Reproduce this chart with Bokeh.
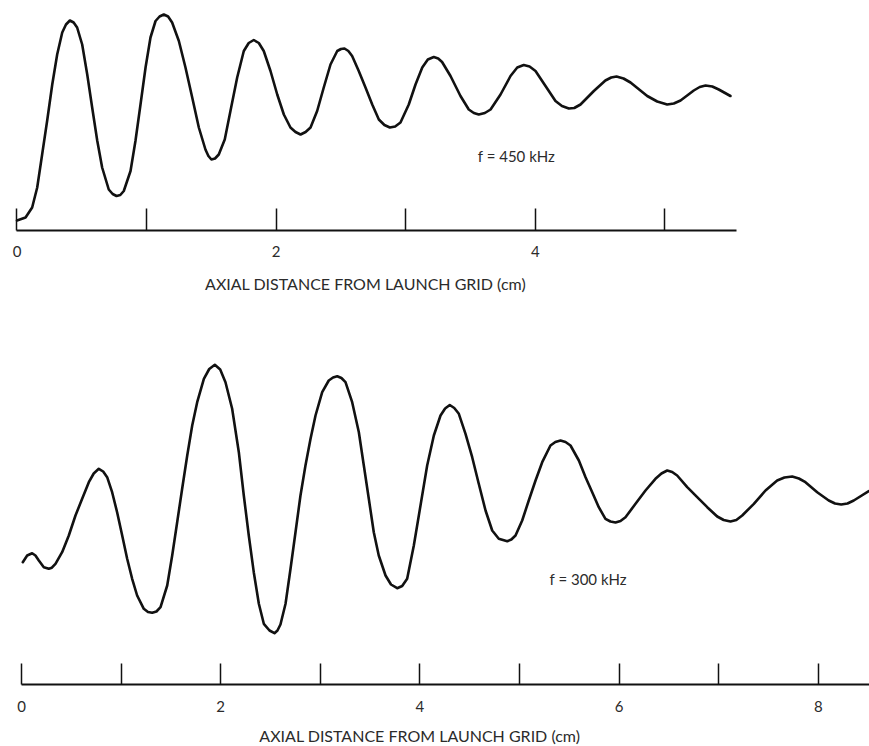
from bokeh.plotting import figure
from bokeh.models import Range1d, FixedTicker, Label
from bokeh.layouts import column
from bokeh.embed import file_html
from bokeh.resources import INLINE

# ---- data (axial distance in cm, signal amplitude in arbitrary units) ----
x_450 = [0.0, 0.066, 0.117, 0.156, 0.194, 0.233, 0.272, 0.31, 0.349, 0.378,
         0.408, 0.437, 0.464, 0.503, 0.542, 0.58, 0.619, 0.657, 0.708, 0.738,
         0.768, 0.797, 0.824, 0.876, 0.914, 0.953, 0.992, 1.03, 1.069, 1.10,
         1.133, 1.166, 1.197, 1.249, 1.30, 1.352, 1.403, 1.454, 1.477, 1.50,
         1.528, 1.557, 1.603, 1.647, 1.699, 1.75, 1.788, 1.827, 1.866, 1.904,
         1.956, 2.008, 2.059, 2.11, 2.149, 2.188, 2.227, 2.265, 2.316, 2.367,
         2.419, 2.471, 2.50, 2.527, 2.557, 2.586, 2.637, 2.689, 2.741, 2.792,
         2.835, 2.877, 2.918, 2.959, 3.023, 3.075, 3.127, 3.17, 3.216, 3.25,
         3.28, 3.345, 3.422, 3.486, 3.525, 3.563, 3.61, 3.654, 3.731, 3.808,
         3.86, 3.91, 3.955, 4.001, 4.078, 4.155, 4.205, 4.258, 4.30, 4.348,
         4.451, 4.54, 4.585, 4.626, 4.68, 4.734, 4.863, 4.94, 5.017, 5.068,
         5.12, 5.222, 5.268, 5.313, 5.365, 5.415, 5.505]
amp_450 = [10.0, 13.0, 23.0, 43.0, 76.0, 110.0, 146.0, 176.0, 198.0, 206.0,
           210.0, 208.0, 203.0, 186.0, 156.0, 123.0, 90.0, 63.0, 41.0, 36.5,
           34.5, 35.5, 39.5, 59.5, 89.5, 126.0, 163.0, 193.0, 209.5, 214.0,
           216.0, 214.0, 208.0, 189.5, 163.0, 133.0, 103.0, 81.0, 74.5, 71.0,
           72.0, 76.0, 91.0, 119.5, 153.0, 179.5, 187.5, 190.5, 187.5, 179.5,
           159.5, 136.0, 116.0, 103.0, 98.5, 96.0, 98.5, 103.0, 119.5, 143.0,
           166.0, 179.5, 181.5, 182.0, 179.5, 174.5, 159.5, 143.0, 126.0, 111.0,
           105.5, 103.0, 104.0, 108.0, 126.0, 146.0, 163.0, 171.0, 173.5, 172.0,
           168.5, 154.5, 134.5, 121.0, 117.5, 116.0, 117.5, 121.0, 136.0, 154.5,
           163.0, 165.5, 164.0, 159.5, 144.5, 129.5, 124.5, 122.0, 122.5, 126.0,
           139.5, 150.0, 153.0, 154.0, 152.0, 148.0, 134.5, 129.0, 126.0, 127.0,
           130.0, 140.0, 143.5, 145.0, 144.0, 141.0, 134.5]

x_300 = [0.013, 0.057, 0.107, 0.14, 0.174, 0.224, 0.274, 0.305, 0.341, 0.408,
         0.475, 0.542, 0.609, 0.676, 0.725, 0.776, 0.82, 0.86, 0.91, 0.96,
         1.011, 1.061, 1.111, 1.161, 1.228, 1.27, 1.312, 1.355, 1.396, 1.463,
         1.513, 1.563, 1.613, 1.664, 1.714, 1.764, 1.831, 1.885, 1.941, 1.995,
         2.048, 2.115, 2.182, 2.232, 2.282, 2.332, 2.383, 2.433, 2.49, 2.54,
         2.57, 2.60, 2.651, 2.701, 2.751, 2.801, 2.851, 2.902, 2.952, 3.019,
         3.085, 3.128, 3.17, 3.212, 3.253, 3.32, 3.387, 3.437, 3.487, 3.537,
         3.587, 3.655, 3.71, 3.772, 3.822, 3.872, 3.939, 4.006, 4.073, 4.14,
         4.207, 4.253, 4.30, 4.345, 4.391, 4.458, 4.525, 4.591, 4.659, 4.726,
         4.792, 4.877, 4.918, 4.96, 5.027, 5.093, 5.161, 5.228, 5.311, 5.36,
         5.412, 5.462, 5.512, 5.596, 5.663, 5.73, 5.796, 5.863, 5.913, 5.964,
         6.014, 6.064, 6.165, 6.265, 6.365, 6.425, 6.483, 6.533, 6.583, 6.684,
         6.784, 6.885, 6.985, 7.05, 7.118, 7.177, 7.236, 7.353, 7.47, 7.587,
         7.66, 7.738, 7.805, 7.871, 7.989, 8.105, 8.168, 8.23, 8.293, 8.356,
         8.507]
amp_300 = [122.3, 129.0, 131.3, 129.0, 124.0, 117.3, 115.7, 116.8, 120.7, 132.3,
           149.0, 169.0, 185.7, 202.3, 211.0, 215.7, 213.0, 207.3, 192.3, 172.3,
           149.0, 125.7, 105.7, 89.0, 75.7, 72.5, 71.7, 73.0, 77.3, 99.0,
           129.0, 162.3, 195.7, 229.0, 259.0, 282.3, 305.7, 315.5, 319.7, 315.0,
           302.3, 275.7, 232.3, 189.0, 149.0, 112.3, 80.7, 60.7, 54.0, 51.3,
           54.0, 60.0, 80.7, 115.7, 152.3, 189.0, 219.0, 245.7, 269.0, 292.3,
           304.0, 307.0, 308.3, 306.5, 302.3, 282.3, 252.3, 219.0, 185.7, 152.3,
           129.0, 109.0, 100.0, 96.3, 98.5, 105.7, 139.0, 179.0, 219.0, 249.0,
           269.0, 276.0, 279.5, 276.5, 270.7, 250.7, 227.3, 200.7, 174.0, 154.0,
           145.7, 143.3, 145.0, 149.0, 164.0, 184.0, 204.0, 222.3, 239.0, 242.5,
           244.0, 242.5, 239.0, 224.0, 207.3, 192.3, 177.3, 165.7, 163.0, 162.0,
           163.5, 167.3, 180.7, 194.0, 205.7, 211.0, 214.0, 212.5, 209.0, 197.3,
           187.3, 177.3, 168.0, 164.5, 163.0, 164.5, 169.0, 180.7, 194.0, 204.0,
           207.0, 208.0, 206.0, 202.3, 192.3, 184.0, 181.0, 180.0, 181.0, 184.0,
           193.3]

ticks_450 = [0, 1, 2, 3, 4, 5]
ticks_300 = [0, 1, 2, 3, 4, 5, 6, 7, 8]
tick_text_450 = ["0", "", "2", "", "4", ""]
tick_text_300 = ["0", "", "2", "", "4", "", "6", "", "8"]
label_450 = "f = 450 kHz"
label_300 = "f = 300 kHz"
axis_title = "AXIAL DISTANCE FROM LAUNCH GRID (cm)"

FONT = "Lato"
TXT = "#2b2b2b"
INK = "#111111"


def make_panel(xs, ys, ticks, tick_text, xr, yr, height, bottom_border,
               bounds, tick_len, flabel, flx, fly, standoff):
    p = figure(width=869, height=height, x_range=Range1d(*xr), y_range=Range1d(*yr),
               output_backend="svg", toolbar_location=None, y_axis_location=None,
               min_border_left=0, min_border_right=0, min_border_top=0,
               min_border_bottom=bottom_border)
    p.outline_line_color = None
    p.grid.visible = False
    p.background_fill_color = "white"
    p.border_fill_color = "white"
    p.line(xs, ys, line_color=INK, line_width=2.6, line_join="round", line_cap="round")
    ax = p.xaxis[0]
    ax.ticker = FixedTicker(ticks=ticks)
    ax.major_label_overrides = {t: s for t, s in zip(ticks, tick_text)}
    ax.bounds = bounds
    ax.axis_line_color = INK
    ax.axis_line_width = 2.2
    ax.major_tick_in = tick_len
    ax.major_tick_out = 0
    ax.major_tick_line_color = INK
    ax.major_tick_line_width = 1.5
    ax.minor_tick_line_color = None
    ax.major_label_standoff = standoff
    ax.major_label_text_font = FONT
    ax.major_label_text_font_size = "15px"
    ax.major_label_text_color = TXT
    p.add_layout(Label(x=flx, y=fly, text=flabel, text_font=FONT, text_font_size="15px",
                       text_color=TXT, text_align="center", text_baseline="middle"))
    return p


def make_caption(x_range, height, cx, cy):
    # strip that carries the axis title, sharing the x scale of the panel above
    c = figure(width=869, height=height, x_range=x_range, y_range=Range1d(0, height),
               output_backend="svg", toolbar_location=None, x_axis_location=None,
               y_axis_location=None, min_border_left=0, min_border_right=0,
               min_border_top=0, min_border_bottom=0)
    c.outline_line_color = None
    c.grid.visible = False
    c.add_layout(Label(x=cx, y=cy, text=axis_title, text_font=FONT,
                       text_font_size="16px", text_color=TXT, text_align="center",
                       text_baseline="middle"))
    return c


top = make_panel(x_450, amp_450, ticks_450, tick_text_450,
                 (-0.1273, 6.578), (0, 230), 265, 35, (0, 5.55), 22,
                 label_450, 3.854, 75, 15)
cap_top = make_caption(top.x_range, 35, 2.69, 17)
bottom = make_panel(x_300, amp_300, ticks_300, tick_text_300,
                    (-0.2108, 8.514), (0, 384), 418, 34, (0, 8.52), 21,
                    label_300, 5.69, 105.7, 16)
cap_bottom = make_caption(bottom.x_range, 28, 4.0, 11.5)

layout = column(top, cap_top, bottom, cap_bottom, spacing=0)
open("out.html", "w").write(file_html(layout, INLINE))
